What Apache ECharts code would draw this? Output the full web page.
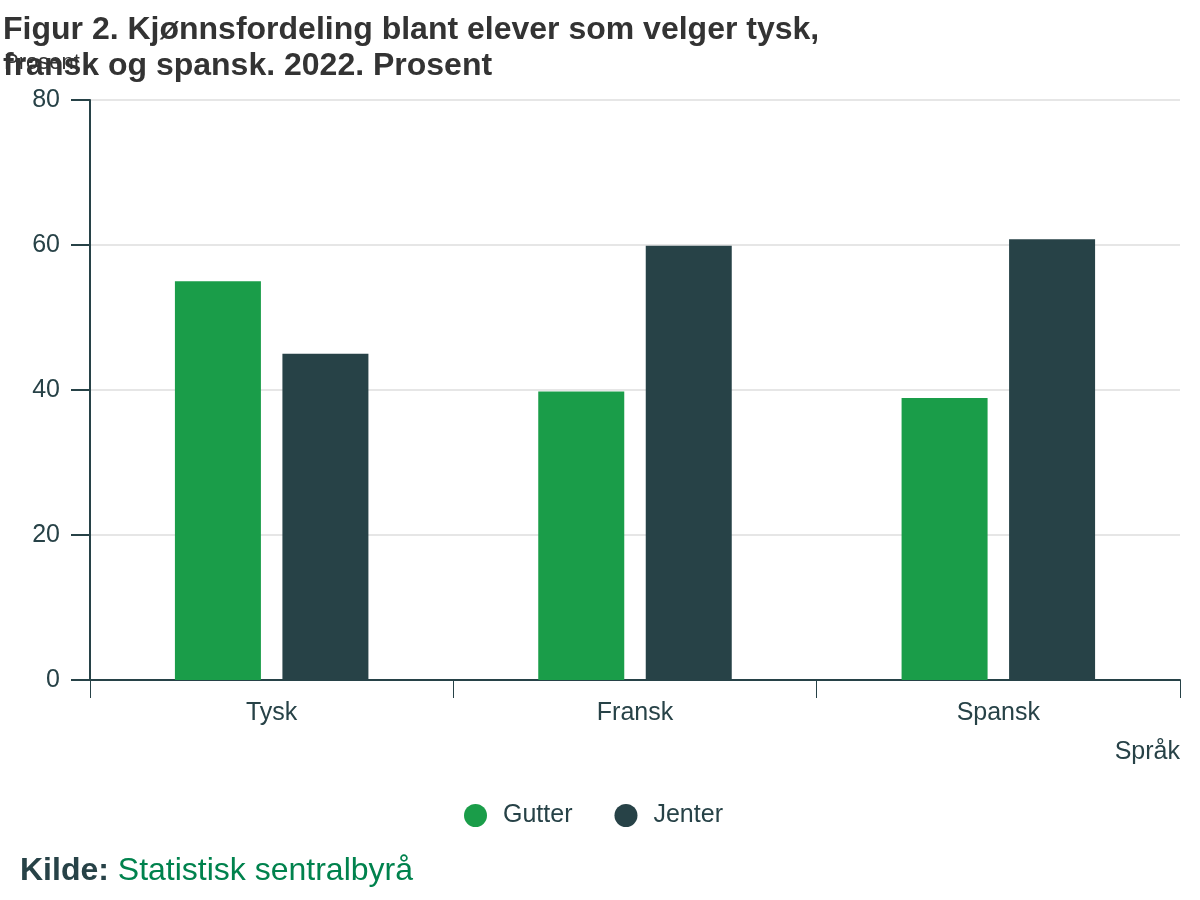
<!DOCTYPE html>
<html>
<head>
<meta charset="utf-8">
<script src="https://cdn.jsdelivr.net/npm/echarts@6/dist/echarts.min.js"></script>
<style>
  html, body { margin: 0; padding: 0; background: #fff; }
  #chart { width: 1200px; height: 900px; }
</style>
</head>
<body>
<div id="chart"></div>
<script>
// data
const categories = ['Tysk', 'Fransk', 'Spansk'];
const gutter = [55.0, 39.8, 38.9];
const jenter = [45.0, 59.9, 60.8];
const yTicks = [0, 20, 40, 60, 80];

const dark = '#274247';
const green = '#1a9d49';
const font = 'Liberation Sans, Arial, sans-serif';

const chart = echarts.init(document.getElementById('chart'));

const option = {
  backgroundColor: '#fff',
  textStyle: { fontFamily: font },
  title: [
    {
      text: 'Figur 2. Kjønnsfordeling blant elever som velger tysk,\nfransk og spansk. 2022. Prosent',
      left: 0,
      top: 12,
      padding: [0, 0, 0, 3],
      textStyle: { fontSize: 32, fontWeight: 'bold', color: '#333', lineHeight: 36, fontFamily: font }
    },
    {
      text: 'Kilde: {src|Statistisk sentralbyrå}',
      left: 15,
      top: 850,
      textStyle: {
        fontSize: 32, fontWeight: 'bold', color: dark, fontFamily: font,
        rich: { src: { fontSize: 32, fontWeight: 'normal', color: '#00824d', fontFamily: font } }
      }
    }
  ],
  legend: {
    data: ['Gutter', 'Jenter'],
    top: 798,
    left: 459,
    icon: 'circle',
    itemWidth: 23,
    itemHeight: 23,
    itemGap: 42,
    textStyle: { fontSize: 25, color: dark, fontFamily: font, padding: [0, 0, 0, 11] }
  },
  grid: { left: 90, right: 20, top: 100, bottom: 220, containLabel: false },
  xAxis: {
    type: 'category',
    data: categories,
    name: 'Språk',
    nameLocation: 'end',
    nameGap: 0,
    nameTextStyle: { fontSize: 25, color: dark, align: 'right', verticalAlign: 'top', padding: [60, 0, 0, 0] },
    axisLine: { lineStyle: { color: dark, width: 2 } },
    axisTick: { show: true, length: 18, lineStyle: { color: dark, width: 1 } },
    axisLabel: { fontSize: 25, color: dark, margin: 21 }
  },
  yAxis: {
    type: 'value',
    min: 0,
    max: 80,
    interval: 20,
    name: 'Prosent',
    nameLocation: 'end',
    nameGap: 0,
    nameTextStyle: { fontSize: 22, color: '#333', align: 'left', padding: [0, 0, 26, -86] },
    axisLine: { show: true, lineStyle: { color: dark, width: 2 } },
    axisTick: { show: true, length: 19, lineStyle: { color: dark, width: 2 } },
    axisLabel: {
      fontSize: 25, color: dark, margin: 30,
      formatter: v => (yTicks.indexOf(v) >= 0 ? String(v) : '')
    },
    splitLine: { lineStyle: { color: '#e6e6e6', width: 2 } }
  },
  series: [
    {
      name: 'Gutter',
      type: 'bar',
      data: gutter,
      barWidth: 86,
      barGap: '25%',
      itemStyle: { color: green }
    },
    {
      name: 'Jenter',
      type: 'bar',
      data: jenter,
      barWidth: 86,
      barGap: '25%',
      itemStyle: { color: dark }
    }
  ]
};

chart.setOption(option);
</script>
</body>
</html>
